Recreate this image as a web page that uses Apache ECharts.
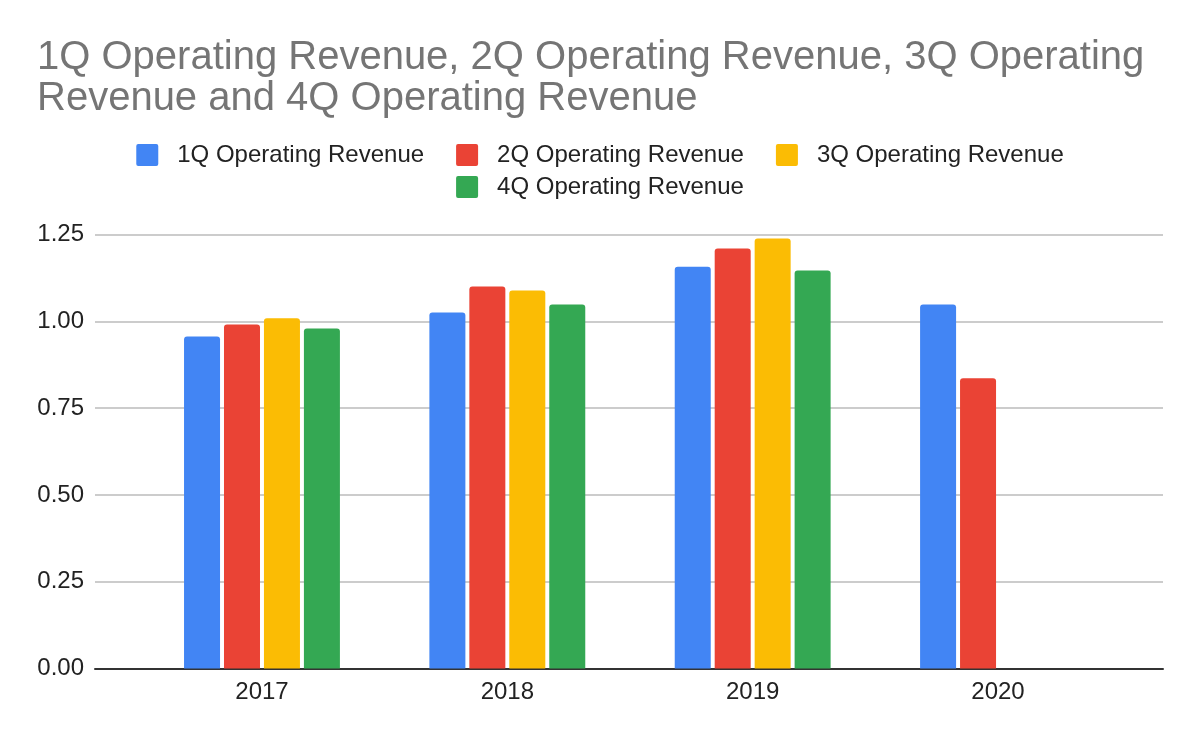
<!DOCTYPE html>
<html>
<head>
<meta charset="utf-8">
<script src="https://cdn.jsdelivr.net/npm/echarts@6/dist/echarts.min.js"></script>
<style>
html,body{margin:0;padding:0;background:#fff;}
#chart{width:1200px;height:742px;}
</style>
</head>
<body>
<div id="chart"></div>
<script>
const categories = ['2017', '2018', '2019', '2020'];
const q1Revenue = [0.957, 1.026, 1.158, 1.049];
const q2Revenue = [0.991, 1.101, 1.210, 0.836];
const q3Revenue = [1.009, 1.089, 1.239, null];
const q4Revenue = [0.980, 1.049, 1.147, null];
const seriesNames = ['1Q Operating Revenue', '2Q Operating Revenue', '3Q Operating Revenue', '4Q Operating Revenue'];
const colors = ['#4285F4', '#EA4335', '#FBBC04', '#34A853'];
const titleText = '1Q Operating Revenue, 2Q Operating Revenue, 3Q Operating\nRevenue and 4Q Operating Revenue';

const FONT = '"Liberation Sans", Arial, sans-serif';
const chart = echarts.init(document.getElementById('chart'));
const allData = [q1Revenue, q2Revenue, q3Revenue, q4Revenue];

const legendCommon = {
  icon: 'path://M2,0 H20 A2,2 0 0 1 22,2 V20 A2,2 0 0 1 20,22 H2 A2,2 0 0 1 0,20 V2 A2,2 0 0 1 2,0 Z',
  itemWidth: 22,
  itemHeight: 22,
  itemGap: 32,
  left: 'center',
  textStyle: { fontFamily: FONT, fontSize: 24, color: '#222', padding: [0, 0, 0, 14] }
};

chart.setOption({
  backgroundColor: '#fff',
  animation: false,
  color: colors,
  title: {
    text: titleText,
    left: 37,
    top: 37,
    padding: 0,
    textStyle: { fontFamily: FONT, fontSize: 40, fontWeight: 'normal', color: '#757575', lineHeight: 41 }
  },
  legend: [
    Object.assign({}, legendCommon, { top: 138, data: seriesNames.slice(0, 3) }),
    Object.assign({}, legendCommon, { top: 170, data: seriesNames.slice(3) })
  ],
  grid: [
    { left: 95, right: 37, top: 234.7, bottom: 73.5 },
    { left: 139.3, right: 79.3, top: 234.7, bottom: 73.5 }
  ],
  xAxis: [
    {
      type: 'category', gridIndex: 0, data: categories,
      axisLabel: { show: false }, axisTick: { show: false },
      axisLine: { show: true, lineStyle: { color: '#333', width: 2 } },
      splitLine: { show: false }
    },
    {
      type: 'category', gridIndex: 1, data: categories,
      axisLine: { show: false }, axisTick: { show: false },
      axisLabel: { fontFamily: FONT, fontSize: 24, color: '#222', margin: 12 }
    }
  ],
  yAxis: [
    {
      type: 'value', gridIndex: 0, min: 0, max: 1.25, interval: 0.25,
      axisLine: { show: false }, axisTick: { show: false },
      axisLabel: { fontFamily: FONT, fontSize: 24, color: '#222', margin: 11, formatter: v => v.toFixed(2) },
      splitLine: { lineStyle: { color: '#cccccc', width: 2 } }
    },
    {
      type: 'value', gridIndex: 1, min: 0, max: 1.25, interval: 0.25, show: false,
      splitLine: { show: false }
    }
  ],
  series: seriesNames.map((name, i) => ({
    name: name,
    type: 'bar',
    xAxisIndex: 1,
    yAxisIndex: 1,
    data: allData[i],
    barWidth: 36,
    barGap: '11%',
    itemStyle: { color: colors[i], borderRadius: [3, 3, 0, 0] }
  }))
});
</script>
</body>
</html>
